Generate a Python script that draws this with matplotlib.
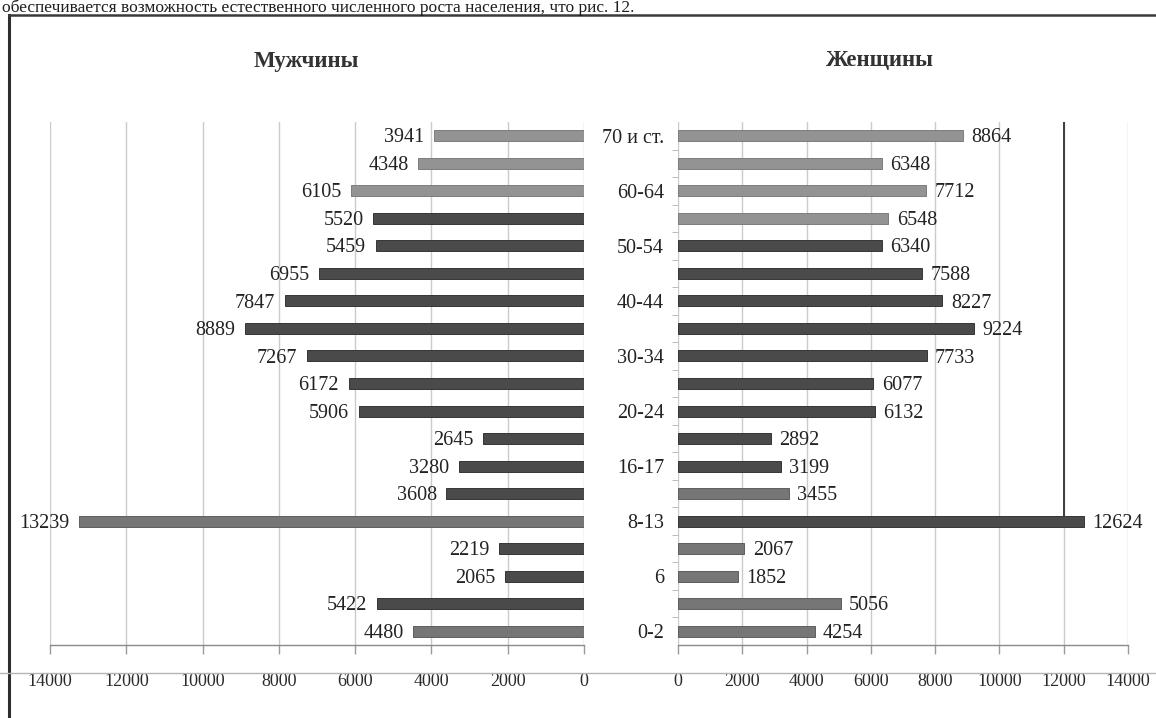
import matplotlib
matplotlib.use("Agg")
import matplotlib.pyplot as plt
from matplotlib.lines import Line2D
import numpy as np

# Age groups, bottom to top
age_groups = ["0-2", "3-5", "6", "7", "8-13", "14-15", "16-17", "18-19",
              "20-24", "25-29", "30-34", "35-39", "40-44", "45-49",
              "50-54", "55-59", "60-64", "65-69", "70 и ст."]

men = [4480, 5422, 2065, 2219, 13239, 3608, 3280, 2645,
       5906, 6172, 7267, 8889, 7847, 6955,
       5459, 5520, 6105, 4348, 3941]

women = [4254, 5056, 1852, 2067, 12624, 3455, 3199, 2892,
         6132, 6077, 7733, 9224, 8227, 7588,
         6340, 6548, 7712, 6348, 8864]

# Bar shading per age group
men_shade = ["mid", "dark", "dark", "dark", "mid", "dark", "dark", "dark",
             "dark", "dark", "dark", "dark", "dark", "dark",
             "dark", "dark", "light", "light", "light"]
women_shade = ["mid", "mid", "mid", "mid", "dark", "mid", "dark", "dark",
               "dark", "dark", "dark", "dark", "dark", "dark",
               "dark", "light", "light", "light", "light"]

x_ticks = [0, 2000, 4000, 6000, 8000, 10000, 12000, 14000]

palette = {"dark": ("#4a4a4a", "#353535"),
           "mid": ("#767676", "#5e5e5e"),
           "light": ("#939393", "#7c7c7c")}

SERIF = ["Liberation Serif", "DejaVu Serif"]

W, H = 1156, 718
fig = plt.figure(figsize=(W / 100, H / 100), dpi=100)
fig.patch.set_facecolor("white")


def fx(px):
    return px / W


def fy(py):
    return 1 - py / H


top_px, bot_px = 122, 645
axL = fig.add_axes([fx(50), fy(bot_px), (584 - 50) / W, (bot_px - top_px) / H])
axR = fig.add_axes([fx(678), fy(bot_px), (1128 - 678) / W, (bot_px - top_px) / H])

rows = np.arange(len(age_groups))
bar_h = 0.4


def style_axis(ax):
    ax.set_xlim(0, 14000)
    ax.set_ylim(-0.5, len(age_groups) - 0.5)
    ax.set_xticks(x_ticks)
    ax.set_xticklabels([str(t) for t in x_ticks], family=SERIF, fontsize=13,
                       color="#2a2a2a")
    ax.grid(axis="x", color="#cbcbcb", linewidth=1.0)
    ax.set_axisbelow(True)
    for side in ("top", "right", "left"):
        ax.spines[side].set_visible(False)
    ax.spines["bottom"].set_color("#8a8a8a")
    ax.spines["bottom"].set_linewidth(1.0)
    ax.tick_params(axis="x", direction="out", length=6.5, width=1.0,
                   color="#9a9a9a", pad=14)


def draw_side(ax, values, shades, side):
    for i, (v, s) in enumerate(zip(values, shades)):
        face, edge = palette[s]
        ax.barh(rows[i], v, height=bar_h, color=face, edgecolor=edge,
                linewidth=0.7, zorder=3)
        if side == "left":
            ax.annotate(str(v), xy=(v, rows[i]), xytext=(-7, -1.5),
                        textcoords="offset points", ha="right", va="center",
                        family=SERIF, fontsize=14.5, color="#222222", zorder=4)
        else:
            ax.annotate(str(v), xy=(v, rows[i]), xytext=(6, -1.5),
                        textcoords="offset points", ha="left", va="center",
                        family=SERIF, fontsize=14.5, color="#222222", zorder=4)


# Men: bars grow to the left
style_axis(axL)
axL.invert_xaxis()
axL.set_yticks([])
draw_side(axL, men, men_shade, "left")

# Women: bars grow to the right, age labels between the panels
style_axis(axR)
axR.set_yticks(rows[::2])
axR.set_yticklabels(age_groups[::2], family=SERIF, fontsize=14.5, color="#222222")
axR.set_yticks(rows[:-1] + 0.5, minor=True)
axR.tick_params(axis="y", which="major", length=0, pad=10)
axR.tick_params(axis="y", which="minor", length=4, color="#b0b0b0", direction="out")
draw_side(axR, women, women_shade, "right")

# darker rule at 12000 down to the 8-13 bar
k = age_groups.index("8-13")
axR.vlines(12000, rows[k] + bar_h / 2, len(age_groups) - 0.5,
           color="#3c3c3c", linewidth=1.4, zorder=2)

# panel titles
fig.text(fx(306), fy(61), "Мужчины", ha="center", va="center", family=SERIF,
         fontsize=16.5, fontweight="bold", color="#333333")
fig.text(fx(880), fy(61), "Женщины", ha="center", va="center", family=SERIF,
         fontsize=16.5, fontweight="bold", color="#333333")

# frame of the figure box and page rule
fig.add_artist(Line2D([fx(9), fx(9)], [fy(15), 0], color="#2e2e2e", linewidth=2.2))
fig.add_artist(Line2D([fx(9), 1], [fy(15), fy(15)], color="#3a3a3a", linewidth=1.8))
fig.add_artist(Line2D([0, 1], [fy(673), fy(673)], color="#b4b4b4", linewidth=1.0))

# running text line of the page above the figure
fig.text(fx(2), fy(11.5), "обеспечивается возможность естественного численного роста населения, что рис. 12.",
         ha="left", va="baseline", family=SERIF, fontsize=12.5, color="#1e1e1e")

fig.savefig("out.png", dpi=100, facecolor="white")
